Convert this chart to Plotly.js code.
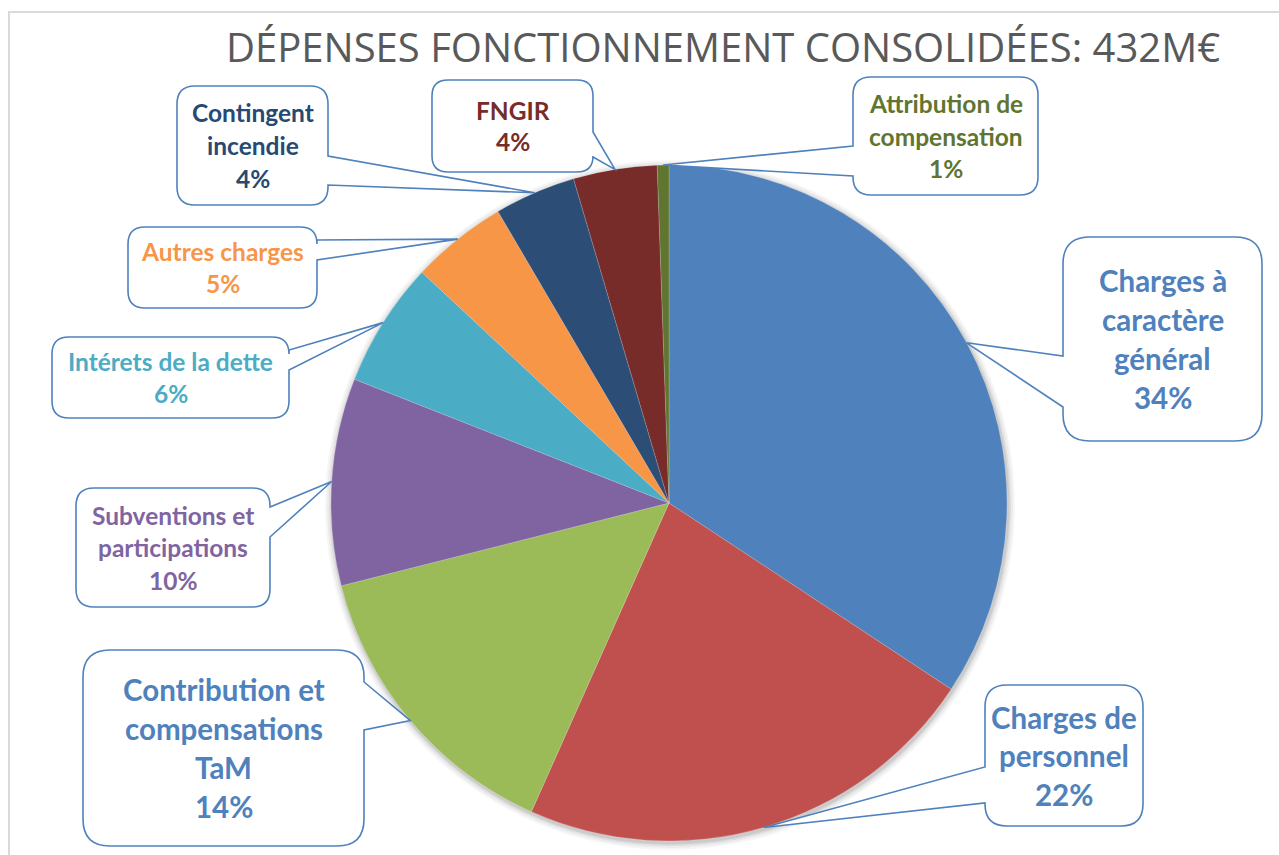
<!DOCTYPE html>
<html>
<head>
<meta charset="utf-8">
<script src="https://cdn.plot.ly/plotly-3.0.1.min.js"></script>
<style>
  html, body { margin: 0; padding: 0; background: #ffffff; }
  #chart { width: 1279px; height: 855px; }
</style>
</head>
<body>
<div id="chart"></div>
<script>
// ---- DATA ----
const chartTitle = 'DÉPENSES FONCTIONNEMENT CONSOLIDÉES: 432M€';
const categories = [
  'Charges à<br>caractère<br>général',
  'Charges de<br>personnel',
  'Contribution et<br>compensations<br>TaM',
  'Subventions et<br>participations',
  'Intérets de la dette',
  'Autres charges',
  'Contingent<br>incendie',
  'FNGIR',
  'Attribution de<br>compensation'
];
// M€
const values = [148.2, 96.8, 62.2, 42.8, 25.9, 19.9, 16.8, 17.3, 2.4];

// ---- STYLE ----
const sliceColors = ['#4F81BD', '#C0504D', '#9BBB59', '#8064A2', '#4BACC6',
                     '#F79646', '#2C4D75', '#772C2A', '#5F7530'];
const labelColors = ['#4F81BD', '#4F81BD', '#4F81BD', '#8064A2', '#4BACC6',
                     '#F79646', '#264A73', '#772C2A', '#5F7530'];

const W = 1279, H = 855;
const CX = 669, CY = 503, R = 338;   // pie geometry in pixels

// callout boxes (pixels): box rect, side of pointer, pointer base y's, text size, line height, corner radius
const boxes = [
  {x0: 1063, y0: 237, x1: 1262, y1: 441, side: 'l', a: 356, b: 407, size: 29.5, lh: 39, r: 27},
  {x0: 985,  y0: 685, x1: 1143, y1: 826, side: 'l', a: 767, b: 803, size: 29.5, lh: 38.5, r: 22},
  {x0: 83,   y0: 650, x1: 364,  y1: 846, side: 'r', a: 682, b: 730, size: 29.5, lh: 39, r: 27},
  {x0: 76,   y0: 488, x1: 270,  y1: 607, side: 'r', a: 507, b: 537, size: 24.5, lh: 32.5, r: 18},
  {x0: 52,   y0: 337, x1: 289,  y1: 418, side: 'r', a: 350, b: 370, size: 24.5, lh: 32.5, r: 17},
  {x0: 128,  y0: 227, x1: 317,  y1: 308, side: 'r', a: 240, b: 260, size: 24.5, lh: 32.5, r: 17},
  {x0: 177,  y0: 86,  x1: 328,  y1: 205, side: 'r', a: 156, b: 185, size: 24.5, lh: 33, r: 18},
  {x0: 432,  y0: 80,  x1: 593,  y1: 172, side: 'r', a: 132, b: 157, size: 24.5, lh: 31, r: 16},
  {x0: 853,  y0: 77,  x1: 1038, y1: 195, side: 'l', a: 146, b: 176, size: 24.5, lh: 32.5, r: 18}
];

const PX = x => x / W;
const PY = y => 1 - y / H;
const P = (x, y) => PX(x).toFixed(5) + ',' + PY(y).toFixed(5);

function pieDomain(rad, dx, dy) {
  return {
    x: [PX(CX + dx - rad), PX(CX + dx + rad)],
    y: [PY(CY + dy + rad), PY(CY + dy - rad)]
  };
}

const total = values.reduce((s, v) => s + v, 0);

// pointer tips from slice mid angles
const tips = [];
let cum = 0;
values.forEach(v => {
  const mid = (cum + v / 2) / total * 2 * Math.PI;
  tips.push([CX + R * Math.sin(mid), CY - R * Math.cos(mid)]);
  cum += v;
});

function calloutPath(b, tip) {
  const r = b.r;
  let d = 'M' + P(b.x0 + r, b.y0);
  d += ' L' + P(b.x1 - r, b.y0);
  d += ' Q' + P(b.x1, b.y0) + ' ' + P(b.x1, b.y0 + r);
  if (b.side === 'r') {
    d += ' L' + P(b.x1, b.a) + ' L' + P(tip[0], tip[1]) + ' L' + P(b.x1, b.b);
  }
  d += ' L' + P(b.x1, b.y1 - r);
  d += ' Q' + P(b.x1, b.y1) + ' ' + P(b.x1 - r, b.y1);
  d += ' L' + P(b.x0 + r, b.y1);
  d += ' Q' + P(b.x0, b.y1) + ' ' + P(b.x0, b.y1 - r);
  if (b.side === 'l') {
    d += ' L' + P(b.x0, b.b) + ' L' + P(tip[0], tip[1]) + ' L' + P(b.x0, b.a);
  }
  d += ' L' + P(b.x0, b.y0 + r);
  d += ' Q' + P(b.x0, b.y0) + ' ' + P(b.x0 + r, b.y0);
  d += ' Z';
  return d;
}

const shapes = [
  // chart frame
  {type: 'line', xref: 'paper', yref: 'paper', x0: PX(9), x1: PX(9), y0: PY(12), y1: PY(860),
   line: {color: '#D9D9D9', width: 2}},
  {type: 'line', xref: 'paper', yref: 'paper', x0: PX(8), x1: PX(1290), y0: PY(12), y1: PY(12),
   line: {color: '#D9D9D9', width: 2}}
];
boxes.forEach((b, i) => {
  shapes.push({
    type: 'path', xref: 'paper', yref: 'paper', layer: 'above',
    path: calloutPath(b, tips[i]),
    fillcolor: '#FFFFFF',
    line: {color: '#4F81BD', width: 1.6}
  });
});

const annotations = [{
  xref: 'paper', yref: 'paper', x: PX(723), y: PY(46),
  xanchor: 'center', yanchor: 'middle', showarrow: false,
  text: chartTitle,
  font: {family: 'Open Sans, sans-serif', size: 40, color: '#595959'}
}];
categories.forEach((c, i) => {
  const b = boxes[i];
  const pct = Math.round(values[i] / total * 100) + '%';
  const lines = c.split('<br>').concat([pct]);
  const cx = (b.x0 + b.x1) / 2, cy = (b.y0 + b.y1) / 2;
  lines.forEach((t, k) => {
    annotations.push({
      xref: 'paper', yref: 'paper',
      x: PX(cx), y: PY(cy + (k - (lines.length - 1) / 2) * b.lh),
      xanchor: 'center', yanchor: 'middle', showarrow: false,
      text: t,
      font: {family: 'Lato, sans-serif', size: b.size, color: labelColors[i], weight: 700}
    });
  });
});

const traces = [];
// soft shadow behind the pie
[[7, 0.035], [5, 0.045], [3, 0.06], [1.5, 0.08]].forEach(s => {
  traces.push({
    type: 'pie', values: [1], labels: ['s'], sort: false,
    domain: pieDomain(R + s[0], 1, 2),
    marker: {colors: ['rgba(0,0,0,' + s[1] + ')'], line: {width: 0}},
    textinfo: 'none', hoverinfo: 'skip', showlegend: false
  });
});
traces.push({
  type: 'pie',
  labels: categories,
  values: values,
  sort: false,
  direction: 'clockwise',
  rotation: 0,
  domain: pieDomain(R, 0, 0),
  marker: {colors: sliceColors, line: {color: 'rgba(255,255,255,0.35)', width: 0.5}},
  textinfo: 'none',
  hoverinfo: 'label+percent',
  showlegend: false
});

const layout = {
  width: W, height: H,
  margin: {l: 0, r: 0, t: 0, b: 0, pad: 0},
  paper_bgcolor: '#FFFFFF',
  plot_bgcolor: '#FFFFFF',
  showlegend: false,
  shapes: shapes,
  annotations: annotations
};

Plotly.newPlot('chart', traces, layout, {displayModeBar: false, staticPlot: true});
</script>
</body>
</html>
